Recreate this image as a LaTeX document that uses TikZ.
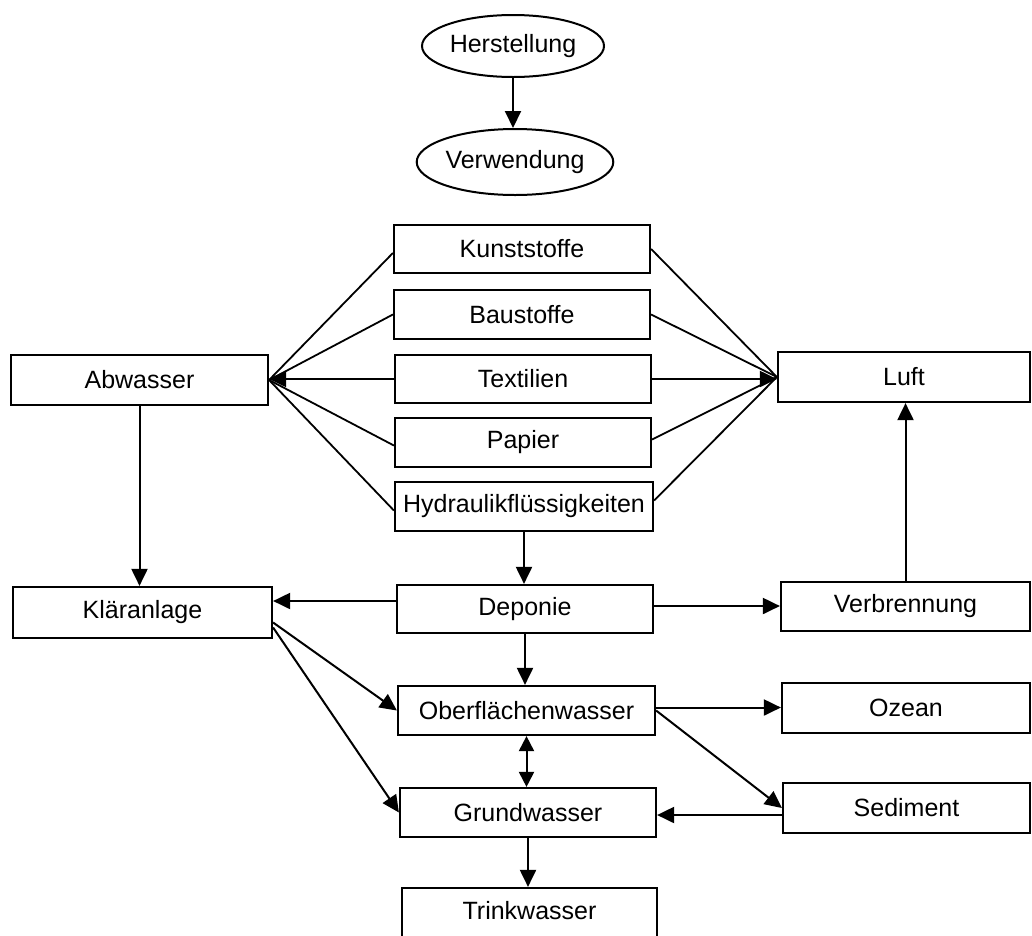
\documentclass[tikz,border=0pt]{standalone}
\usepackage{fontspec}
\setmainfont{Liberation Sans}
\usetikzlibrary{arrows.meta,shapes.geometric}
\begin{document}
\begin{tikzpicture}[x=1pt,y=-1pt,
  every node/.style={font=\fontsize{25}{29}\selectfont, inner sep=0pt},
  box/.style={draw, line width=2.2pt, rectangle},
  oval/.style={draw, line width=2pt, ellipse},
  conn/.style={line width=1.8pt},
  arr/.style={line width=2pt, -{Triangle[length=17pt,width=16pt]}},
  darr/.style={line width=2pt, {Triangle[length=15pt,width=15pt]}-{Triangle[length=15pt,width=15pt]}}]
\useasboundingbox (0,0) rectangle (1032,935);
\fill[white] (0,0) rectangle (1032,935);
% ellipses
\node[oval, minimum width=182pt, minimum height=62pt] (her) at (513,46) {Herstellung};
\node[oval, minimum width=182pt, minimum height=66pt] (ver) at (515,162) {Verwendung};
% middle column
\node[box, minimum width=256pt, minimum height=48pt] (kun) at (522,249) {Kunststoffe};
\node[box, minimum width=256pt, minimum height=49pt] (bau) at (522,314.5) {Baustoffe};
\node[box, minimum width=256pt, minimum height=48pt] (tex) at (523,379) {Textilien};
\node[box, minimum width=256pt, minimum height=49pt] (pap) at (523,442.5) {Papier};
\node[box, minimum width=258pt, minimum height=49pt] (hyd) at (524,506.5) {Hydraulikflüssigkeiten};
\node[box, minimum width=256pt, minimum height=48pt] (dep) at (525,609) {Deponie};
\node[box, minimum width=257pt, minimum height=49pt] (obe) at (526.5,710.5) {Oberflächenwasser};
\node[box, minimum width=256pt, minimum height=49pt] (gru) at (528,812.5) {Grundwasser};
\node[box, minimum width=255pt, minimum height=62pt, text height=18pt, text depth=18pt] (tri) at (529.5,919) {Trinkwasser};
% left column
\node[box, minimum width=257pt, minimum height=50pt] (abw) at (139.5,380) {Abwasser};
\node[box, minimum width=259pt, minimum height=51pt] (kla) at (142.5,612.5) {Kläranlage};
% right column
\node[box, minimum width=252pt, minimum height=50pt] (luf) at (904,377) {Luft};
\node[box, minimum width=249pt, minimum height=49pt] (vbr) at (905.5,606.5) {Verbrennung};
\node[box, minimum width=248pt, minimum height=50pt] (oze) at (906,708) {Ozean};
\node[box, minimum width=247pt, minimum height=50pt] (sed) at (906.5,808) {Sediment};
% connectors
\draw[arr] (her.south) -- (her.south |- ver.north);
% fan to Abwasser
\draw[conn] ([yshift=-4pt]kun.west) -- (abw.east);
\draw[conn] (bau.west) -- (abw.east);
\draw[arr] (tex.west) -- (tex.west -| abw.east);
\draw[conn] ([yshift=-3pt]pap.west) -- (abw.east);
\draw[conn] ([yshift=-4pt]hyd.west) -- (abw.east);
% fan to Luft
\draw[conn] (kun.east) -- (luf.west);
\draw[conn] (bau.east) -- (luf.west);
\draw[arr] (tex.east) -- (tex.east -| luf.west);
\draw[conn] ([yshift=3pt]pap.east) -- (luf.west);
\draw[conn] ([yshift=6pt]hyd.east) -- (luf.west);
% vertical
\draw[arr] (abw.south) -- (abw.south |- kla.north);
\draw[arr] (hyd.south) -- (hyd.south |- dep.north);
\draw[arr] (dep.south) -- (dep.south |- obe.north);
\draw[darr] (obe.south) -- (obe.south |- gru.north);
\draw[arr] (gru.south) -- (gru.south |- tri.north);
\draw[arr] (vbr.north) -- (vbr.north |- luf.south);
% horizontal and diagonal
\draw[arr] ([yshift=8pt]dep.west) -- ([yshift=8pt]dep.west -| kla.east);
\draw[arr] ([yshift=3pt]dep.east) -- ([yshift=3pt]dep.east -| vbr.west);
\draw[arr] ([yshift=3pt]obe.east) -- ([yshift=3pt]obe.east -| oze.west);
\draw[arr] ([yshift=-7pt]sed.west) -- ([yshift=-7pt]sed.west -| gru.east);
\draw[arr] (obe.east) -- (sed.west);
\draw[arr] ([yshift=-10pt]kla.east) -- (obe.west);
\draw[arr] ([yshift=-15pt]kla.east) -- (gru.west);
\end{tikzpicture}
\end{document}
